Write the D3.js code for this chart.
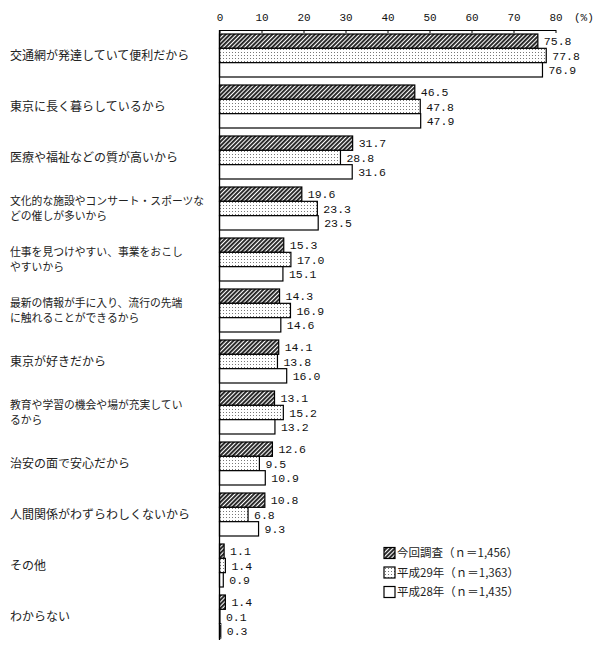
<!DOCTYPE html>
<html><head><meta charset="utf-8">
<script src="https://cdn.jsdelivr.net/npm/d3@7"></script>
<style>body{margin:0;background:#fff}</style>
</head><body>
<script>
const categories = [
  ["交通網が発達していて便利だから"],
  ["東京に長く暮らしているから"],
  ["医療や福祉などの質が高いから"],
  ["文化的な施設やコンサート・スポーツな","どの催しが多いから"],
  ["仕事を見つけやすい、事業をおこし","やすいから"],
  ["最新の情報が手に入り、流行の先端","に触れることができるから"],
  ["東京が好きだから"],
  ["教育や学習の機会や場が充実してい","るから"],
  ["治安の面で安心だから"],
  ["人間関係がわずらわしくないから"],
  ["その他"],
  ["わからない"]
];
const seriesNames = ["今回調査（ｎ＝1,456）","平成29年（ｎ＝1,363）","平成28年（ｎ＝1,435）"];
const current = [75.8,46.5,31.7,19.6,15.3,14.3,14.1,13.1,12.6,10.8,1.1,1.4];
const h29 = [77.8,47.8,28.8,23.3,17.0,16.9,13.8,15.2,9.5,6.8,1.4,0.1];
const h28 = [76.9,47.9,31.6,23.5,15.1,14.6,16.0,13.2,10.9,9.3,0.9,0.3];
const xTicks = [0,10,20,30,40,50,60,70,80];
const series = [current, h29, h28];

const W=600,H=645;
const svg = d3.select("body").append("svg").attr("width",W).attr("height",H);
const defs = svg.append("defs");
const hatch = defs.append("pattern").attr("id","hatch").attr("patternUnits","userSpaceOnUse")
  .attr("width",3).attr("height",3).attr("patternTransform","rotate(45)");
hatch.append("rect").attr("width",3).attr("height",3).attr("fill","#fff");
hatch.append("rect").attr("width",1.9).attr("height",3).attr("fill","#222");
const dots = defs.append("pattern").attr("id","dots").attr("patternUnits","userSpaceOnUse")
  .attr("width",3).attr("height",3);
dots.append("rect").attr("width",3).attr("height",3).attr("fill","#fff");
dots.append("rect").attr("x",1).attr("y",1).attr("width",1).attr("height",1).attr("fill","#777");
const fills = ["url(#hatch)","url(#dots)","#fff"];

const x = d3.scaleLinear().domain([0,80]).range([219.5,555.5]);
const keys = categories.map((c,i)=>i);
const y = d3.scaleBand().domain(keys).range([30,642]).paddingInner(8/51).paddingOuter(4/51);
const ys = d3.scaleBand().domain([0,1,2]).range([0,y.bandwidth()]);

const ax = svg.append("g").attr("transform","translate(0,30)")
  .call(d3.axisTop(x).tickValues(xTicks).tickSizeInner(-3).tickSizeOuter(0).tickPadding(9));
ax.select(".domain").attr("stroke","#000");
ax.selectAll(".tick line").attr("stroke","#000");
ax.selectAll("text").attr("font-family","Liberation Mono").attr("font-size",11).attr("fill","#111");
svg.append("text").attr("x",574).attr("y",21).attr("font-family","Liberation Mono")
  .attr("font-size",11).attr("fill","#111").text("(%)");

const g = svg.append("g");
keys.forEach(i=>{
  series.forEach((s,j)=>{
    const v = s[i];
    const yy = y(i)+ys(j);
    g.append("rect").attr("x",x(0)).attr("y",yy).attr("width",x(v)-x(0)).attr("height",ys.bandwidth())
      .attr("fill",fills[j]).attr("stroke","#000").attr("stroke-width",1.2);
    g.append("text").attr("x",x(v)+6).attr("y",yy+ys.bandwidth()/2).attr("dy","0.36em")
      .attr("font-family","Liberation Mono").attr("font-size",11.5).attr("fill","#111")
      .text(v.toFixed(1));
  });
  const lines = categories[i];
  const cy = y(i)+y.bandwidth()/2;
  lines.forEach((s,k)=>{
    svg.append("text").attr("x",10).attr("y",cy + (lines.length===1?0:(k===0?-7.5:7.5)))
      .attr("dy","0.35em").attr("font-family","Noto Sans CJK JP")
      .attr("font-size",lines.length===1?12:10.8)
      .attr("fill","#222").text(s);
  });
});
svg.append("line").attr("x1",x(0)).attr("x2",x(0)).attr("y1",30).attr("y2",640)
  .attr("stroke","#000").attr("stroke-width",1.3);

const lg = svg.append("g");
seriesNames.forEach((n,j)=>{
  const cy = 553 + j*19.5;
  lg.append("rect").attr("x",384).attr("y",cy-5.5).attr("width",11).attr("height",11)
    .attr("fill",fills[j]).attr("stroke","#000").attr("stroke-width",1.2);
  lg.append("text").attr("x",397).attr("y",cy).attr("dy","0.35em")
    .attr("font-family","Noto Sans CJK JP").attr("font-size",11.5).attr("fill","#222").text(n);
});
</script>
</body></html>
